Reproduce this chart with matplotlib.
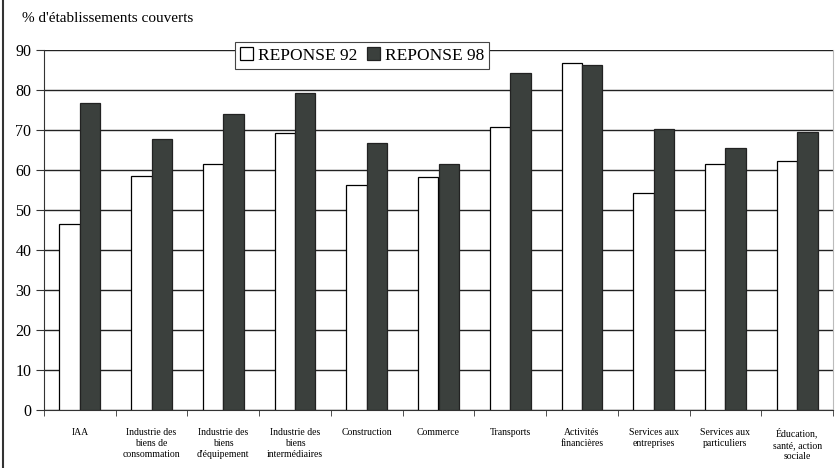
import matplotlib
matplotlib.use("Agg")
import matplotlib.pyplot as plt
import numpy as np
from matplotlib.lines import Line2D

categories = ["IAA", "Industrie des\nbiens de\nconsommation", "Industrie des\nbiens\nd'équipement",
              "Industrie des\nbiens\nintermédiaires", "Construction", "Commerce", "Transports",
              "Activités\nfinancières", "Services aux\nentreprises", "Services aux\nparticuliers",
              "Éducation,\nsanté, action\nsociale"]
rep92 = [46.6, 58.6, 61.4, 69.2, 56.2, 58.3, 70.7, 86.7, 54.2, 61.4, 62.3]
rep98 = [76.7, 67.7, 74.0, 79.3, 66.7, 61.5, 84.3, 86.2, 70.3, 65.4, 69.6]
yticks = list(range(0, 91, 10))

plt.rcParams['font.family'] = ['Liberation Serif', 'DejaVu Serif']

fig = plt.figure(figsize=(8.36, 4.68), dpi=100)
ax = fig.add_axes([44/836, 1-410/468, (833-44)/836, 360/468])

x = np.arange(len(categories))
w = 0.285
ax.bar(x - w/2, rep92, w, color='white', edgecolor='black', linewidth=0.9, label='REPONSE 92', zorder=3)
ax.bar(x + w/2, rep98, w, color='#3b403d', edgecolor='#222222', linewidth=0.9, label='REPONSE 98', zorder=3)

ax.set_xlim(-0.5, len(categories) - 0.5)
ax.set_ylim(0, 90)
ax.set_yticks(yticks)
ax.set_yticklabels([str(t) for t in yticks], fontsize=11.5)
ax.yaxis.grid(True, color='#222222', linewidth=1.0, zorder=0)
ax.set_axisbelow(True)

ax.set_xticks(x)
ax.set_xticklabels(categories, fontsize=7, linespacing=1.3)
ax.tick_params(axis='x', length=0, pad=13)
ax.set_xticks(np.arange(-0.5, len(categories), 1), minor=True)
ax.tick_params(axis='x', which='minor', length=4, direction='out', color='#333333')
ax.tick_params(axis='y', length=6, direction='out', color='#333333', pad=3)

ax.spines['top'].set_visible(False)
ax.spines['right'].set_color('#bbbbbb')
ax.spines['right'].set_linewidth(0.8)
ax.spines['left'].set_color('#333333')
ax.spines['bottom'].set_color('#333333')

leg = ax.legend(loc='upper left', bbox_to_anchor=((235-44)/789, (410-42)/360), borderaxespad=0,
                ncol=2, fontsize=12.5, fancybox=False, edgecolor='#444444', framealpha=1,
                handlelength=0.75, handleheight=0.75, handletextpad=0.25, columnspacing=0.6,
                borderpad=0.3)
leg.get_frame().set_linewidth(0.8)

fig.text(22/836, 1-18/468, "% d'établissements couverts", fontsize=11, va='center', ha='left')

fig.add_artist(Line2D([3/836, 3/836], [0, 1], color='#333333', linewidth=1.5))

fig.savefig("out.png", dpi=100)
